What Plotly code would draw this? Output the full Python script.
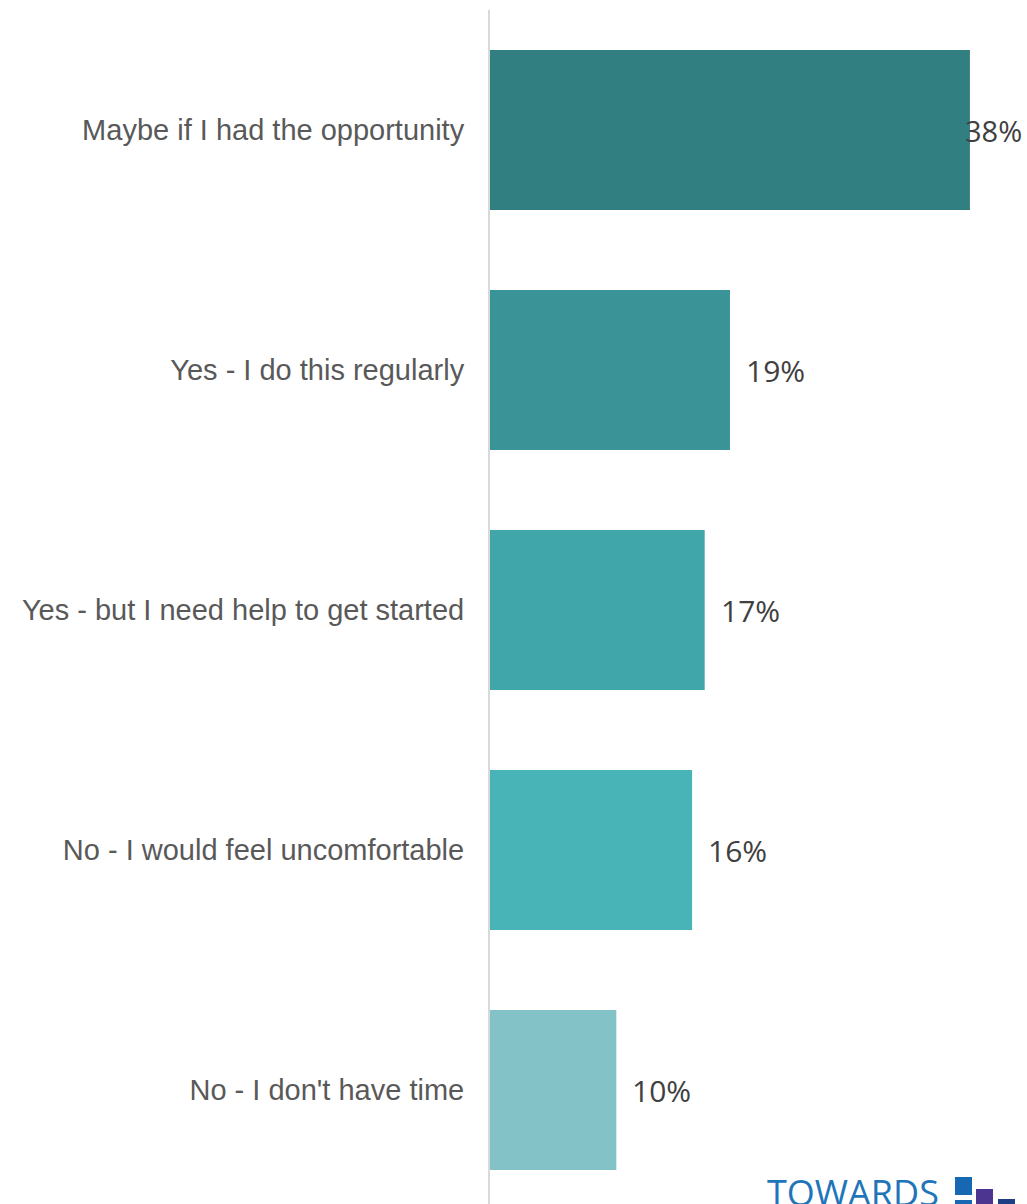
import plotly.graph_objects as go

categories = [
    "Maybe if I had the opportunity",
    "Yes - I do this regularly",
    "Yes - but I need help to get started",
    "No - I would feel uncomfortable",
    "No - I don't have time",
]
values = [38, 19, 17, 16, 10]
bar_colors = ["#317F80", "#3A9497", "#40A6A9", "#48B4B8", "#83C3C7"]
value_labels = [f"{v}%" for v in values]

fig = go.Figure()
fig.add_trace(go.Bar(
    x=values, y=categories, orientation="h",
    marker=dict(color=bar_colors, line=dict(width=0)),
    hoverinfo="skip",
))

vmax = max(values)
for c, v, t in zip(categories, values, value_labels):
    if v == vmax:
        fig.add_annotation(x=v, y=c, xref="x", yref="y", text=t, showarrow=False,
                           xanchor="right", xshift=54,
                           font=dict(family="Open Sans", size=29, color="#404040"))
    else:
        fig.add_annotation(x=v, y=c, xref="x", yref="y", text=t, showarrow=False,
                           xanchor="left", xshift=14,
                           font=dict(family="Open Sans", size=30, color="#404040"))

W, H = 1027, 1204
L = 490
pw = W - L
def px(xp):
    return (xp - L) / pw
def py(yp):
    return (1204 - yp) / 1194

# logo
fig.add_annotation(x=px(765), y=py(1166), xref="paper", yref="paper", text="TOWARDS",
                   showarrow=False, xanchor="left", yanchor="top",
                   font=dict(family="Open Sans", size=36, color="#1F75B9"))
fig.add_shape(type="rect", xref="paper", yref="paper", x0=px(955), x1=px(972),
              y0=py(1195), y1=py(1177), line=dict(width=0), fillcolor="#1768B3")
fig.add_shape(type="rect", xref="paper", yref="paper", x0=px(955), x1=px(972),
              y0=py(1210), y1=py(1200), line=dict(width=0), fillcolor="#1768B3")
fig.add_shape(type="rect", xref="paper", yref="paper", x0=px(976), x1=px(993),
              y0=py(1210), y1=py(1189), line=dict(width=0), fillcolor="#4B3590")
fig.add_shape(type="rect", xref="paper", yref="paper", x0=px(998), x1=px(1015),
              y0=py(1210), y1=py(1199), line=dict(width=0), fillcolor="#1E3F86")

fig.update_layout(
    width=1027, height=1204,
    margin=dict(l=490, r=0, t=10, b=0),
    paper_bgcolor="white", plot_bgcolor="white",
    bargap=1/3,
    showlegend=False,
    xaxis=dict(range=[0, 537 / 12.63], visible=False, fixedrange=True),
    yaxis=dict(
        type="category", range=[4.475, -0.5],
        showline=True, linecolor="#D9D9D9", linewidth=2,
        showgrid=False, zeroline=False, ticks="",
        ticklabelstandoff=18,
        tickfont=dict(family="Liberation Sans", size=29, color="#595959"),
    ),
)

fig.write_html("out.html")
